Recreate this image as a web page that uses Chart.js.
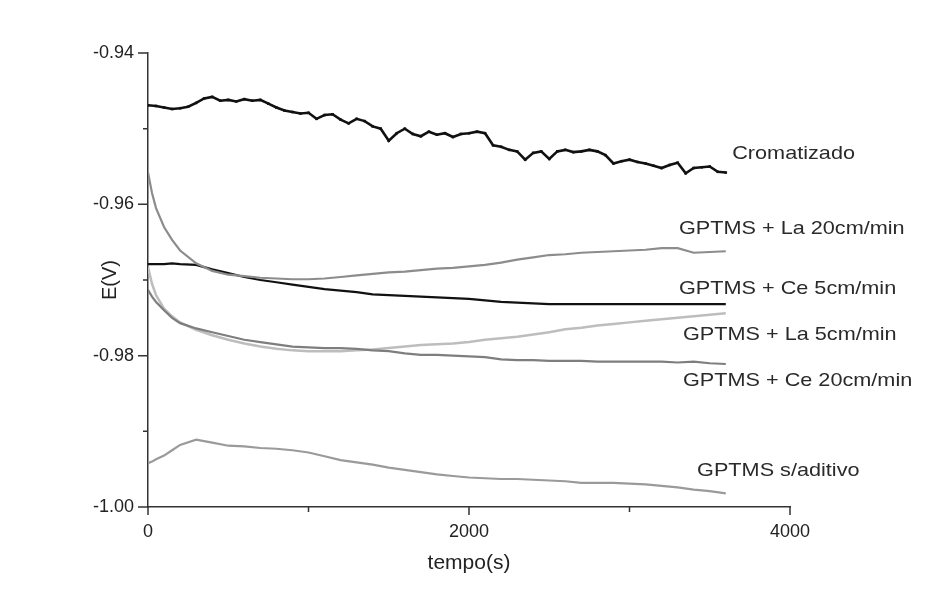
<!DOCTYPE html>
<html>
<head>
<meta charset="utf-8">
<title>E(V) vs tempo(s)</title>
<script src="https://cdn.jsdelivr.net/npm/chart.js@4.4.1/dist/chart.umd.min.js"></script>
<style>
  html, body { margin: 0; padding: 0; background: #fff; }
  #chart { display: block; }
</style>
</head>
<body>
<canvas id="chart" width="949" height="601"></canvas>
<script>
// time (s) for the noisy chromated curve
const timeFine = [0, 50, 100, 150, 200, 250, 300, 350, 400, 450, 500, 550, 600, 650, 700, 750,
  800, 850, 900, 950, 1000, 1050, 1100, 1150, 1200, 1250, 1300, 1350, 1400, 1450, 1500, 1550,
  1600, 1650, 1700, 1750, 1800, 1850, 1900, 1950, 2000, 2050, 2100, 2150, 2200, 2250, 2300, 2350,
  2400, 2450, 2500, 2550, 2600, 2650, 2700, 2750, 2800, 2850, 2900, 2950, 3000, 3050, 3100, 3150,
  3200, 3250, 3300, 3350, 3400, 3450, 3500, 3550, 3600];

// time (s) for the GPTMS curves
const timeMain = [0, 25, 50, 100, 150, 200, 300, 400, 500, 600, 700, 800, 900, 1000, 1100, 1200,
  1300, 1400, 1500, 1600, 1700, 1800, 1900, 2000, 2100, 2200, 2300, 2400, 2500, 2600, 2700, 2800,
  2900, 3000, 3100, 3200, 3300, 3400, 3500, 3600];

const cromatizado = [-0.9469, -0.9470, -0.9472, -0.9474, -0.9473, -0.9471, -0.9466, -0.9460, -0.9458,
  -0.9463, -0.9462, -0.9464, -0.9461, -0.9463, -0.9462, -0.9467, -0.9472, -0.9476, -0.9478, -0.9480,
  -0.9479, -0.9487, -0.9482, -0.9481, -0.9488, -0.9493, -0.9487, -0.9490, -0.9497, -0.9500, -0.9516,
  -0.9506, -0.9500, -0.9507, -0.9510, -0.9504, -0.9508, -0.9506, -0.9511, -0.9507, -0.9506, -0.9504,
  -0.9506, -0.9522, -0.9524, -0.9528, -0.9530, -0.9541, -0.9532, -0.9530, -0.9540, -0.9530, -0.9528,
  -0.9531, -0.9530, -0.9528, -0.9530, -0.9535, -0.9546, -0.9543, -0.9541, -0.9544, -0.9546, -0.9549,
  -0.9552, -0.9548, -0.9545, -0.9559, -0.9552, -0.9551, -0.9550, -0.9557, -0.9558];

const la20 = [-0.9558, -0.9585, -0.9605, -0.9630, -0.9647, -0.9661, -0.9678, -0.9688, -0.9693, -0.9695,
  -0.9697, -0.9698, -0.9699, -0.9699, -0.9698, -0.9696, -0.9694, -0.9692, -0.9690, -0.9689, -0.9687,
  -0.9685, -0.9684, -0.9682, -0.9680, -0.9677, -0.9673, -0.9670, -0.9667, -0.9666, -0.9664, -0.9663,
  -0.9662, -0.9661, -0.9660, -0.9658, -0.9658, -0.9664, -0.9663, -0.9662];

const ce5 = [-0.9679, -0.9679, -0.9679, -0.9679, -0.9678, -0.9679, -0.9680, -0.9686, -0.9691, -0.9696,
  -0.9700, -0.9703, -0.9706, -0.9709, -0.9712, -0.9714, -0.9716, -0.9719, -0.9720, -0.9721, -0.9722,
  -0.9723, -0.9724, -0.9725, -0.9727, -0.9729, -0.9730, -0.9731, -0.9732, -0.9732, -0.9732, -0.9732,
  -0.9732, -0.9732, -0.9732, -0.9732, -0.9732, -0.9732, -0.9732, -0.9732];

const la5 = [-0.9683, -0.9705, -0.9720, -0.9738, -0.9748, -0.9756, -0.9766, -0.9773, -0.9779, -0.9784,
  -0.9788, -0.9791, -0.9793, -0.9794, -0.9794, -0.9794, -0.9793, -0.9792, -0.9790, -0.9788, -0.9786,
  -0.9785, -0.9784, -0.9782, -0.9779, -0.9777, -0.9775, -0.9772, -0.9769, -0.9765, -0.9763, -0.9760,
  -0.9758, -0.9756, -0.9754, -0.9752, -0.9750, -0.9748, -0.9746, -0.9744];

const ce20 = [-0.9713, -0.9722, -0.9729, -0.9740, -0.9750, -0.9757, -0.9764, -0.9769, -0.9774, -0.9779,
  -0.9782, -0.9785, -0.9788, -0.9789, -0.9790, -0.9790, -0.9791, -0.9793, -0.9794, -0.9797, -0.9799,
  -0.9799, -0.9800, -0.9801, -0.9802, -0.9805, -0.9806, -0.9806, -0.9807, -0.9807, -0.9807, -0.9808,
  -0.9808, -0.9808, -0.9808, -0.9808, -0.9809, -0.9808, -0.9810, -0.9811];

const semAditivo = [-0.9942, -0.9940, -0.9937, -0.9932, -0.9925, -0.9918, -0.9911, -0.9915, -0.9919,
  -0.9920, -0.9922, -0.9923, -0.9925, -0.9928, -0.9933, -0.9938, -0.9941, -0.9944, -0.9948, -0.9951,
  -0.9954, -0.9957, -0.9959, -0.9961, -0.9962, -0.9963, -0.9963, -0.9964, -0.9965, -0.9966, -0.9968,
  -0.9968, -0.9968, -0.9969, -0.9970, -0.9972, -0.9974, -0.9977, -0.9979, -0.9982];

const seriesNames = ['Cromatizado', 'GPTMS + La 20cm/min', 'GPTMS + Ce 5cm/min',
  'GPTMS + La 5cm/min', 'GPTMS + Ce 20cm/min', 'GPTMS s/aditivo'];

const xTicks = [0, 1000, 2000, 3000, 4000];
const yTicks = [-1.00, -0.99, -0.98, -0.97, -0.96, -0.95, -0.94];

function pts(times, values) {
  return values.map((v, i) => ({ x: times[i], y: v }));
}

const FONT = '"Liberation Sans", Arial, Helvetica, sans-serif';

// axis tick marks (long at labelled values, short in between) and curve names
const decorPlugin = {
  id: 'decor',
  beforeDraw(chart) {
    const ctx = chart.ctx;
    ctx.save();
    ctx.fillStyle = '#fff';
    ctx.fillRect(0, 0, chart.width, chart.height);
    ctx.restore();
  },
  afterDraw(chart) {
    const ctx = chart.ctx;
    const xs = chart.scales.x, ys = chart.scales.y;
    const area = chart.chartArea;
    ctx.save();
    ctx.strokeStyle = '#333';
    ctx.lineWidth = 1.5;
    ctx.beginPath();
    xTicks.forEach(t => {
      const px = xs.getPixelForValue(t);
      const len = t % 2000 === 0 ? 8 : 5;
      ctx.moveTo(px, area.bottom);
      ctx.lineTo(px, area.bottom + len);
    });
    yTicks.forEach(v => {
      const py = ys.getPixelForValue(v);
      const len = Math.round(v * 100) % 2 === 0 ? 10 : 5;
      ctx.moveTo(area.left, py);
      ctx.lineTo(area.left - len, py);
    });
    ctx.stroke();

    // curve names, anchored in data units (left / middle)
    const anchors = [[3640, -0.95330], [3308, -0.96326], [3308, -0.97119],
      [3333, -0.97727], [3333, -0.98335], [3421, -0.99524]];
    ctx.fillStyle = '#2a2a2a';
    ctx.font = '19px ' + FONT;
    ctx.textAlign = 'left';
    ctx.textBaseline = 'middle';
    seriesNames.forEach((name, i) => {
      const px = xs.getPixelForValue(anchors[i][0]);
      const py = ys.getPixelForValue(anchors[i][1]);
      ctx.save();
      ctx.translate(px, py);
      ctx.scale(1.14, 1);
      ctx.fillText(name, 0, 0);
      ctx.restore();
    });
    ctx.restore();
  }
};

const line = (data, color, width) => ({
  data: data,
  borderColor: color,
  backgroundColor: color,
  borderWidth: width,
  pointRadius: 0,
  tension: 0,
  fill: false
});

new Chart(document.getElementById('chart'), {
  type: 'line',
  data: {
    datasets: [
      Object.assign(line(pts(timeMain, semAditivo), '#9a9a9a', 2.2), { label: seriesNames[5] }),
      Object.assign(line(pts(timeMain, ce20), '#7e7e7e', 2.2), { label: seriesNames[4] }),
      Object.assign(line(pts(timeMain, la5), '#bdbdbd', 2.5), { label: seriesNames[3] }),
      Object.assign(line(pts(timeMain, la20), '#8c8c8c', 2.2), { label: seriesNames[1] }),
      Object.assign(line(pts(timeMain, ce5), '#111', 2.2), { label: seriesNames[2] }),
      Object.assign(line(pts(timeFine, cromatizado), '#111', 2.6),
        { label: seriesNames[0], pointRadius: 1.8, pointStyle: 'rect', pointBorderWidth: 0 })
    ]
  },
  options: {
    responsive: false,
    animation: false,
    layout: { padding: { top: 53, right: 159, left: 0, bottom: 0 } },
    plugins: { legend: { display: false }, tooltip: { enabled: false } },
    scales: {
      x: {
        type: 'linear',
        min: 0,
        max: 4000,
        afterBuildTicks: s => { s.ticks = xTicks.map(v => ({ value: v })); },
        afterFit: s => { s.height = 94; },
        grid: { display: false, drawTicks: false },
        border: { display: true, color: '#333', width: 1.5 },
        ticks: {
          padding: 14,
          maxRotation: 0,
          autoSkip: false,
          color: '#222',
          font: { family: FONT, size: 18 },
          callback: v => (v % 2000 === 0 ? String(v) : '')
        },
        title: {
          display: true,
          text: 'tempo(s)',
          color: '#222',
          font: { family: FONT, size: 21 },
          padding: { top: 0, bottom: 25 }
        }
      },
      y: {
        type: 'linear',
        min: -1.0,
        max: -0.94,
        afterBuildTicks: s => { s.ticks = yTicks.map(v => ({ value: v })); },
        afterFit: s => { s.width = 148; },
        grid: { display: false, drawTicks: false },
        border: { display: true, color: '#333', width: 1.5 },
        ticks: {
          padding: 14,
          autoSkip: false,
          color: '#222',
          font: { family: FONT, size: 18 },
          callback: v => (Math.round(v * 100) % 2 === 0 ? v.toFixed(2) : '')
        },
        title: {
          display: true,
          text: 'E(V)',
          color: '#222',
          font: { family: FONT, size: 20 },
          padding: { top: 98, bottom: 0 }
        }
      }
    }
  },
  plugins: [decorPlugin]
});
</script>
</body>
</html>
